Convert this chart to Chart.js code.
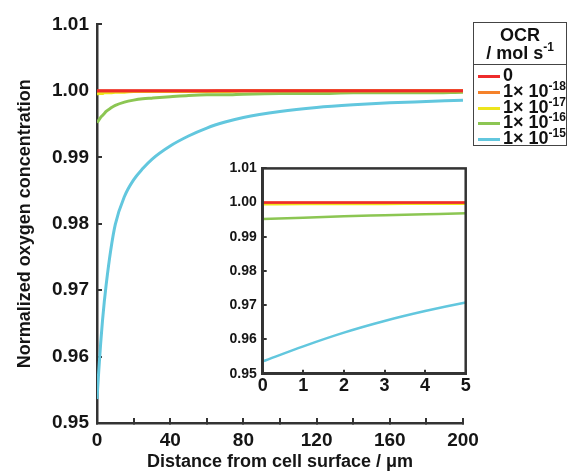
<!DOCTYPE html>
<html>
<head>
<meta charset="utf-8">
<script src="https://cdn.jsdelivr.net/npm/chart.js@4.4.1/dist/chart.umd.min.js"></script>
<style>
  html, body { margin: 0; padding: 0; background: #fff; }
  #wrap { position: relative; width: 567px; height: 471px; overflow: hidden; font-family: "Liberation Sans", Arial, sans-serif; color: #111; }
  #mainChart { position: absolute; left: 0; top: 0; }
  #insetChart { position: absolute; left: 200px; top: 150px; }
  #legend { position: absolute; left: 473px; top: 22px; width: 92px; height: 122px; border: 1.5px solid #444; box-sizing: content-box; font-weight: bold; }
  #legend .head { text-align: center; font-size: 18px; line-height: 18px; border-bottom: 1.5px solid #444; height: 42px; padding-top: 3px; box-sizing: border-box; }
  #legend .row { position: absolute; left: 0; height: 16px; }
  #legend .swatch { position: absolute; left: 4px; width: 22px; height: 3px; }
  #legend .txt { position: absolute; left: 29px; top: -1px; font-size: 18px; line-height: 16px; white-space: nowrap; }
  #legend sup { font-size: 12px; vertical-align: 0; position: relative; top: -7px; }
  #legend .head sup { top: -8px; }
</style>
</head>
<body>
<div id="wrap">
  <canvas id="mainChart" width="567" height="471"></canvas>
  <canvas id="insetChart" width="280" height="250"></canvas>
  <div id="legend"></div>
</div>
<script>
// distance from cell surface (um)
const distance = [0, 1, 2, 3, 4, 5, 7.5, 10, 15, 20, 25, 30, 40, 50, 60, 70, 80, 100, 120, 140, 160, 180, 200];

// normalized O2 for each OCR
const ocr0   = [1, 1, 1, 1, 1, 1, 1, 1, 1, 1, 1, 1, 1, 1, 1, 1, 1, 1, 1, 1, 1, 1, 1];
const ocr18  = [0.99995, 0.99996, 0.99996, 0.99997, 0.99997, 0.99997, 0.99997, 0.99998, 0.99998, 0.99999, 0.99999, 0.99999, 0.99999, 0.99999, 0.99999, 1, 1, 1, 1, 1, 1, 1, 1];
const ocr17  = [0.9995, 0.9996, 0.9996, 0.9996, 0.9997, 0.9997, 0.9997, 0.9998, 0.9998, 0.9999, 0.9999, 0.9999, 0.9999, 0.9999, 0.9999, 0.9999, 1, 1, 1, 1, 1, 1, 1];
const ocr16  = [0.9952, 0.9956, 0.9960, 0.9963, 0.9966, 0.9969, 0.9974, 0.9978, 0.9983, 0.9986, 0.9988, 0.9989, 0.9991, 0.9993, 0.9994, 0.9994, 0.9995, 0.9996, 0.9996, 0.9997, 0.9997, 0.9997, 0.9998];
const ocr15  = [0.9536, 0.9580, 0.9620, 0.9654, 0.9683, 0.9708, 0.9760, 0.9799, 0.9841, 0.9866, 0.9883, 0.9897, 0.9917, 0.9932, 0.9944, 0.9953, 0.9960, 0.9969, 0.9975, 0.9979, 0.9982, 0.9984, 0.9986];

const seriesList = [ocr0, ocr18, ocr17, ocr16, ocr15];
const legendExp = [null, -18, -17, -16, -15];
const colors = ['#ee2b2b', '#f5822a', '#ede51c', '#8cc653', '#62c7de'];

const xTicksMain = [0, 20, 40, 60, 80, 100, 120, 140, 160, 180, 200];
const yTicksMain = [0.95, 0.96, 0.97, 0.98, 0.99, 1.00, 1.01];
const xTicksInset = [0, 1, 2, 3, 4, 5];
const yTicksInset = [0.95, 0.96, 0.97, 0.98, 0.99, 1.00, 1.01];

const TXT = '#151515';
const AX = '#333';
const FONT = '"Liberation Sans", Arial, sans-serif';

function makeDatasets(width) {
    return seriesList.map((s, i) => ({
        label: i,
        data: distance.map((d, j) => ({x: d, y: s[j]})),
        borderColor: colors[i],
        borderWidth: width,
        pointRadius: 0,
        fill: false,
        cubicInterpolationMode: 'monotone',
    }));
}

const fixTicks = arr => scale => { scale.ticks = arr.map(v => ({value: v})); };

const mainChart = new Chart(document.getElementById('mainChart'), {
    type: 'line',
    data: {datasets: makeDatasets(3)},
    options: {
        responsive: false,
        animation: false,
        layout: {padding: {top: 23, right: 104, left: 0, bottom: 0}},
        plugins: {legend: {display: false}, tooltip: {enabled: false}},
        scales: {
            x: {
                type: 'linear', min: 0, max: 200,
                afterBuildTicks: fixTicks(xTicksMain),
                afterFit: s => { s.height = 48; },
                border: {color: AX, width: 2.5},
                grid: {drawOnChartArea: false, tickLength: -5, color: AX, lineWidth: 2},
                ticks: {
                    padding: 11, color: TXT, autoSkip: false, maxRotation: 0,
                    font: {family: FONT, size: 19, weight: 'bold'},
                    callback: v => (v % 40 === 0 ? String(v) : ''),
                },
                title: {
                    display: true, text: 'Distance from cell surface / μm', color: TXT,
                    font: {family: FONT, size: 18, weight: 'bold', lineHeight: 1},
                    padding: {top: 0, bottom: 0},
                },
            },
            y: {
                min: 0.95, max: 1.01,
                afterBuildTicks: fixTicks(yTicksMain),
                afterFit: s => { s.width = 97; },
                border: {color: AX, width: 2.5},
                grid: {drawOnChartArea: false, tickLength: -5, color: AX, lineWidth: 2},
                ticks: {
                    padding: 13, color: TXT,
                    font: {family: FONT, size: 19, weight: 'bold'},
                    callback: v => v.toFixed(2),
                },
                title: {
                    display: true, text: 'Normalized oxygen concentration', color: TXT,
                    font: {family: FONT, size: 18, weight: 'bold', lineHeight: 1},
                    padding: {top: 16, bottom: 0},
                },
            },
        },
    },
});

// box around the inset
const boxPlugin = {
    id: 'boxPlugin',
    afterDraw(chart) {
        const {ctx, chartArea: a} = chart;
        ctx.save();
        ctx.strokeStyle = AX;
        ctx.lineWidth = 2.5;
        ctx.strokeRect(a.left, a.top, a.right - a.left, a.bottom - a.top);
        ctx.restore();
    }
};

const insetChart = new Chart(document.getElementById('insetChart'), {
    type: 'line',
    data: {datasets: makeDatasets(2.5)},
    plugins: [boxPlugin],
    options: {
        responsive: false,
        animation: false,
        layout: {padding: {top: 14.5, right: 14.3, left: 0, bottom: 0}},
        plugins: {legend: {display: false}, tooltip: {enabled: false}},
        scales: {
            x: {
                type: 'linear', min: 0, max: 5,
                afterBuildTicks: fixTicks(xTicksInset),
                afterFit: s => { s.height = 26.3; },
                border: {color: AX, width: 2.5},
                grid: {drawOnChartArea: false, tickLength: -4, color: AX, lineWidth: 2},
                ticks: {
                    padding: 6, color: TXT, autoSkip: false, maxRotation: 0,
                    font: {family: FONT, size: 18, weight: 'bold'},
                },
            },
            y: {
                min: 0.95, max: 1.01,
                afterBuildTicks: fixTicks(yTicksInset),
                afterFit: s => { s.width = 62.7; },
                border: {color: AX, width: 2.5},
                grid: {drawOnChartArea: false, tickLength: -4, color: AX, lineWidth: 2},
                ticks: {
                    padding: 10, color: TXT,
                    font: {family: FONT, size: 14, weight: 'bold'},
                    callback: v => v.toFixed(2),
                },
            },
        },
    },
});

// legend box (HTML so exponents can be superscripts)
const legendEl = document.getElementById('legend');
legendEl.innerHTML = '<div class="head">OCR<br>/ mol s<sup>-1</sup></div>';
const rowTops = [45, 61, 77, 92, 108];
seriesList.forEach((s, i) => {
    const row = document.createElement('div');
    row.className = 'row';
    row.style.top = rowTops[i] + 'px';
    const label = legendExp[i] === null ? '0' : '1× 10<sup>' + legendExp[i] + '</sup>';
    row.innerHTML = '<div class="swatch" style="top:7px;background:' + colors[i] + '"></div>' +
        '<div class="txt">' + label + '</div>';
    legendEl.appendChild(row);
});
</script>
</body>
</html>
